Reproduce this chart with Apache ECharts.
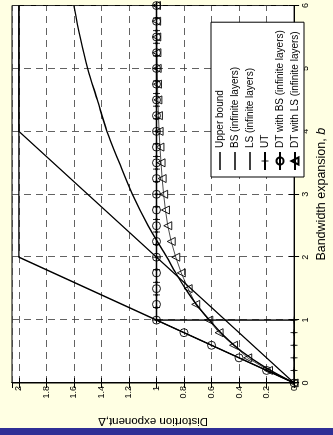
<!DOCTYPE html>
<html>
<head>
<meta charset="utf-8">
<script src="https://cdn.jsdelivr.net/npm/echarts@6/dist/echarts.min.js"></script>
<style>
html,body{margin:0;padding:0;background:#FFFFE3;width:333px;height:435px;overflow:hidden;}
#c{position:absolute;left:0;top:0;width:435px;height:333px;transform-origin:0 0;transform:translate(0px,435px) rotate(-90deg);}
</style>
</head>
<body>
<div id="c"></div>
<script>
// ---- data (b = bandwidth expansion, d = distortion exponent) ----
const xTicks = [0, 1, 2, 3, 4, 5, 6];
const yTicks = [0, 0.2, 0.4, 0.6, 0.8, 1, 1.2, 1.4, 1.6, 1.8, 2];

const upperB = [0, 2, 6];
const upperD = [0, 2, 2];

const bsB = [0, 4, 6];
const bsD = [0, 2, 2];

const lsB = [0, 0.25, 0.5, 0.75, 1, 1.25, 1.5, 1.75, 2, 2.5, 3, 3.5, 4, 4.5, 5, 5.5, 6];
const lsD = [0, 0.21, 0.38, 0.51, 0.615, 0.71, 0.79, 0.86, 0.925, 1.06, 1.175, 1.27, 1.36, 1.43, 1.5, 1.555, 1.6];

const utB = [0, 0.2, 0.4, 0.6, 0.8, 1, 1, 1.2, 1.4, 1.6, 1.8, 2, 2.2, 2.4, 2.6, 2.8, 3, 3.2, 3.4, 3.6, 3.8, 4, 4.2, 4.4, 4.6, 4.8, 5, 5.2, 5.4, 5.6, 5.8, 6];
const utD = [0, 0, 0, 0, 0, 0, 1, 1, 1, 1, 1, 1, 1, 1, 1, 1, 1, 1, 1, 1, 1, 1, 1, 1, 1, 1, 1, 1, 1, 1, 1, 1];

const dtB = [0, 0.2, 0.4, 0.6, 0.8, 1, 1.25, 1.5, 1.75, 2, 2.25, 2.5, 2.75, 3, 3.25, 3.5, 3.75, 4, 4.25, 4.5, 4.75, 5, 5.25, 5.5, 5.75, 6];
const dtBsD = [0, 0.2, 0.4, 0.6, 0.8, 1, 1, 1, 1, 1, 1, 1, 1, 1, 1, 1, 1, 1, 1, 1, 1, 1, 1, 1, 1, 1];
const dtLsD = [0, 0.186, 0.337, 0.44, 0.545, 0.62, 0.715, 0.77, 0.82, 0.86, 0.893, 0.918, 0.935, 0.948, 0.959, 0.967, 0.975, 0.981, 0.986, 0.99, 0.993, 0.995, 0.997, 0.998, 0.999, 1];

const names = ['Upper bound', 'BS (infinite layers)', 'LS (infinite layers)', 'UT', 'DT with BS (infinite layers)', 'DT with LS (infinite layers)'];

function pairs(xs, ys) { return xs.map((x, i) => [x, ys[i]]); }

const FONT = 'Liberation Sans, Arial, sans-serif';
const utSymbol = 'path://M-0.6,-5 L0.6,-5 L0.6,5 L-0.6,5 Z M-5,-0.6 L5,-0.6 L5,0.6 L-5,0.6 Z M0,-2.6 L2.6,0 L0,2.6 L-2.6,0 Z';
const lineIcon = 'path://M0,0 L0,9 M0,3.7 L18,3.7 L18,5.3 L0,5.3 Z';

const gridLine = { show: true, lineStyle: { color: '#3a3a3a', width: 0.8, type: [7, 5] } };

const chart = echarts.init(document.getElementById('c'), null, { renderer: 'canvas' });
chart.setOption({
  animation: false,
  backgroundColor: '#FFFFE3',
  textStyle: { fontFamily: FONT },
  graphic: [
    { type: 'rect', left: 0, top: 0, shape: { width: 7, height: 333 }, style: { fill: '#2F2F96' }, silent: true }
  ],
  grid: {
    left: 48.5, top: 12, width: 384, height: 293.6,
    show: true, backgroundColor: '#ffffff', borderColor: '#000', borderWidth: 1
  },
  legend: {
    orient: 'vertical', left: 258, top: 211,
    backgroundColor: '#ffffff', borderColor: '#000', borderWidth: 1,
    padding: [4, 8, 4, 6], itemWidth: 18, itemHeight: 9, itemGap: 5,
    textStyle: { fontFamily: FONT, fontSize: 10, color: '#000', padding: [0, 0, 0, -1] },
    data: [
      { name: names[0], icon: lineIcon, itemStyle: { color: '#000', borderWidth: 0 } },
      { name: names[1], icon: lineIcon, itemStyle: { color: '#000', borderWidth: 0 } },
      { name: names[2], icon: lineIcon, itemStyle: { color: '#000', borderWidth: 0 } },
      names[3], names[4], names[5]
    ]
  },
  xAxis: [{
    type: 'value', min: 0, max: 6, interval: 1,
    name: 'Bandwidth expansion, {i|b}', nameLocation: 'middle', nameGap: 19,
    nameTextStyle: { fontSize: 12.5, color: '#000', fontFamily: FONT,
      rich: { i: { fontStyle: 'italic', fontSize: 12.5, fontFamily: FONT } } },
    axisLine: { show: true, lineStyle: { color: '#000', width: 1 } },
    axisTick: { show: true, inside: true, length: 5, lineStyle: { color: '#000' } },
    axisLabel: { fontSize: 9, color: '#000', margin: 7, fontFamily: FONT },
    splitLine: gridLine
  }, {
    type: 'value', min: 0, max: 6, interval: 1, position: 'top',
    axisLine: { show: true, lineStyle: { color: '#000' } },
    axisTick: { show: true, inside: true, length: 5, lineStyle: { color: '#000' } },
    axisLabel: { show: false }, splitLine: { show: false }
  }],
  yAxis: [{
    type: 'value', min: 0, max: 2.05, interval: 0.2,
    name: 'Distortion exponent,Δ', nameLocation: 'middle', nameGap: 32, nameRotate: 90,
    nameTextStyle: { fontSize: 11.5, color: '#000', fontFamily: FONT },
    axisLine: { show: true, lineStyle: { color: '#000', width: 1 } },
    axisTick: { show: true, inside: true, length: 5, lineStyle: { color: '#000' } },
    axisLabel: { fontSize: 9, color: '#000', margin: 3, fontFamily: FONT, showMaxLabel: false,
      formatter: function (v) {
        const k = Math.round(v / 0.2);
        if (Math.abs(k * 0.2 - v) > 1e-6) return '';
        return String(+(k * 0.2).toFixed(1));
      } },
    splitLine: gridLine
  }, {
    type: 'value', min: 0, max: 2.05, interval: 0.2, position: 'right',
    axisLine: { show: true, lineStyle: { color: '#000' } },
    axisTick: { show: true, inside: true, length: 5, lineStyle: { color: '#000' } },
    axisLabel: { show: false }, splitLine: { show: false }
  }],
  series: [
    { name: names[0], type: 'line', data: pairs(upperB, upperD), showSymbol: false, symbol: 'none',
      lineStyle: { color: '#000', width: 1.4 }, itemStyle: { color: '#000' } },
    { name: names[1], type: 'line', data: pairs(bsB, bsD), showSymbol: false, symbol: 'none',
      lineStyle: { color: '#000', width: 1.4 }, itemStyle: { color: '#000' } },
    { name: names[2], type: 'line', data: pairs(lsB, lsD), showSymbol: false, symbol: 'none', smooth: 0.3,
      lineStyle: { color: '#000', width: 1.4 }, itemStyle: { color: '#000' } },
    { name: names[3], type: 'line', data: pairs(utB, utD), symbol: utSymbol, symbolSize: 7, showAllSymbol: true,
      lineStyle: { color: '#000', width: 1.4 }, itemStyle: { color: '#000', borderWidth: 0 } },
    { name: names[4], type: 'line', data: pairs(dtB, dtBsD), symbol: 'circle', symbolSize: 8, showAllSymbol: true,
      lineStyle: { color: '#000', width: 1 }, itemStyle: { color: 'rgba(0,0,0,0)', borderColor: '#000', borderWidth: 0.9 } },
    { name: names[5], type: 'line', data: pairs(dtB, dtLsD), symbol: 'triangle', symbolSize: 8, showAllSymbol: true,
      lineStyle: { color: '#000', width: 0.7 }, itemStyle: { color: 'rgba(0,0,0,0)', borderColor: '#000', borderWidth: 0.9 } }
  ]
});
</script>
</body>
</html>
